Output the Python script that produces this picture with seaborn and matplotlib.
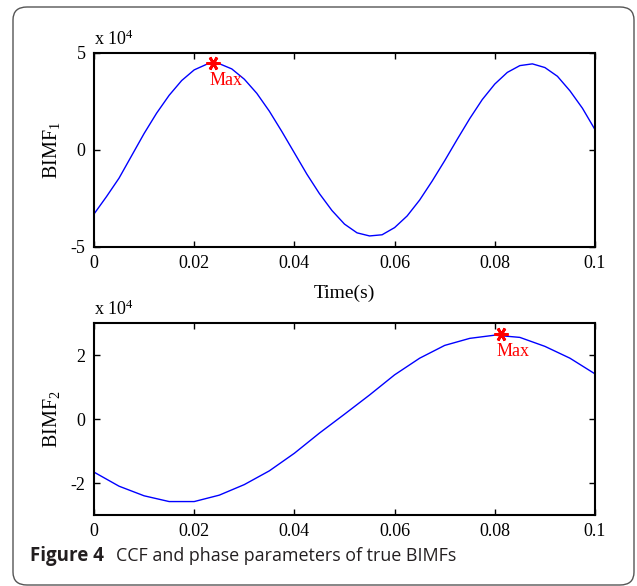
import numpy as np
import pandas as pd
import matplotlib
matplotlib.use("Agg")
import matplotlib.pyplot as plt
from matplotlib.patches import FancyBboxPatch
import seaborn as sns

# ---------------- data ----------------
t1 = [0.0, 0.0025, 0.005, 0.0075, 0.01, 0.0125, 0.015, 0.0175, 0.02, 0.0225,
      0.025, 0.0275, 0.03, 0.0325, 0.035, 0.0375, 0.04, 0.0425, 0.045, 0.0475,
      0.05, 0.0525, 0.055, 0.0575, 0.06, 0.0625, 0.065, 0.0675, 0.07, 0.0725,
      0.075, 0.0775, 0.08, 0.0825, 0.085, 0.0875, 0.09, 0.0925, 0.095, 0.0975, 0.1]
bimf1 = [-3.30, -2.40, -1.45, -0.30, 0.85, 1.90, 2.82, 3.58, 4.13, 4.42,
         4.45, 4.18, 3.65, 2.92, 2.00, 0.95, -0.15, -1.25, -2.25, -3.12,
         -3.82, -4.27, -4.43, -4.37, -4.00, -3.40, -2.58, -1.60, -0.55, 0.55,
         1.62, 2.60, 3.40, 4.00, 4.35, 4.44, 4.25, 3.80, 3.05, 2.15, 1.05]

t2 = [0.0, 0.005, 0.01, 0.015, 0.02, 0.025, 0.03, 0.035, 0.04, 0.045, 0.05,
      0.055, 0.06, 0.065, 0.07, 0.075, 0.08, 0.085, 0.09, 0.095, 0.1]
bimf2 = [-1.66, -2.10, -2.40, -2.58, -2.58, -2.38, -2.05, -1.62, -1.07, -0.44, 0.15,
         0.75, 1.38, 1.90, 2.30, 2.52, 2.62, 2.55, 2.27, 1.90, 1.41]

max1 = (0.0238, 4.47)
max2 = (0.0812, 2.65)

xticks = [0, 0.02, 0.04, 0.06, 0.08, 0.1]
xticklabels = ["0", "0.02", "0.04", "0.06", "0.08", "0.1"]
yticks1 = [-5, 0, 5]
yticks2 = [-2, 0, 2]

# ---------------- style ----------------
sns.set_style("ticks")
plt.rcParams["font.family"] = ["Liberation Serif", "DejaVu Serif"]
plt.rcParams["mathtext.fontset"] = "custom"
plt.rcParams["mathtext.rm"] = "Liberation Serif"
plt.rcParams["mathtext.it"] = "Liberation Serif:italic"
plt.rcParams["mathtext.bf"] = "Liberation Serif:bold"

W, H = 637, 586
fig = plt.figure(figsize=(W / 100, H / 100), dpi=100)
fig.patch.set_facecolor("white")

# rounded frame
frame = FancyBboxPatch((13 / W, 1 / H), (634 - 13) / W, (579 - 1) / H,
                       boxstyle="round,pad=0,rounding_size=0.022",
                       transform=fig.transFigure, facecolor="none",
                       edgecolor="#555555", linewidth=1.0, zorder=0)
fig.patches.append(frame)

ax1 = fig.add_axes([94 / W, 1 - 247 / H, (595 - 94) / W, (247 - 53) / H])
ax2 = fig.add_axes([94 / W, 1 - 515 / H, (595 - 94) / W, (515 - 323) / H])

df1 = pd.DataFrame({"t": t1, "v": bimf1})
df2 = pd.DataFrame({"t": t2, "v": bimf2})
sns.lineplot(data=df1, x="t", y="v", ax=ax1, color="#0000ff", linewidth=1.0)
sns.lineplot(data=df2, x="t", y="v", ax=ax2, color="#0000ff", linewidth=1.0)

ast = (6, 2, 90)
for ax, (mx, my), yt, ylim, lab in [
        (ax1, max1, yticks1, (-5, 5), "BIMF$_1$"),
        (ax2, max2, yticks2, (-3, 3), "BIMF$_2$")]:
    ax.plot([mx], [my], marker=ast, color="red", markersize=10, mew=2.0,
            linestyle="none")
    ax.annotate("Max", (mx, my), xytext=(-3, -6), textcoords="offset points",
                ha="left", va="top", color="red", fontsize=13)
    ax.set_xlim(0, 0.1)
    ax.set_ylim(*ylim)
    ax.set_xticks(xticks)
    ax.set_xticklabels(xticklabels)
    ax.set_yticks(yt)
    ax.set_yticklabels([str(v) for v in yt])
    ax.tick_params(direction="in", top=True, right=True, length=4, width=1,
                   labelsize=13, pad=6, color="black", labelcolor="black")
    for s in ax.spines.values():
        s.set_visible(True)
        s.set_linewidth(1.5)
        s.set_color("black")
    ax.set_ylabel(lab, fontsize=14.5, labelpad=6, color="black")
    ax.set_xlabel("")
    ax.text(0.0, 1.02, "x 10$^4$", transform=ax.transAxes, ha="left",
            va="bottom", fontsize=13, color="black")
    ax.set_facecolor("white")

ax1.set_xlabel("Time(s)", fontsize=14, labelpad=9, color="black")

# caption
fig.text(30 / W, 1 - 556 / H, "Figure 4", fontsize=13.5, fontweight="bold",
         family=["Open Sans", "DejaVu Sans"], va="center", ha="left",
         color="#231f20")
fig.text(116 / W, 1 - 556 / H, "CCF and phase parameters of true BIMFs",
         fontsize=12.9, family=["Open Sans", "DejaVu Sans"], va="center",
         ha="left", color="#231f20")

fig.savefig("out.png", dpi=100)
